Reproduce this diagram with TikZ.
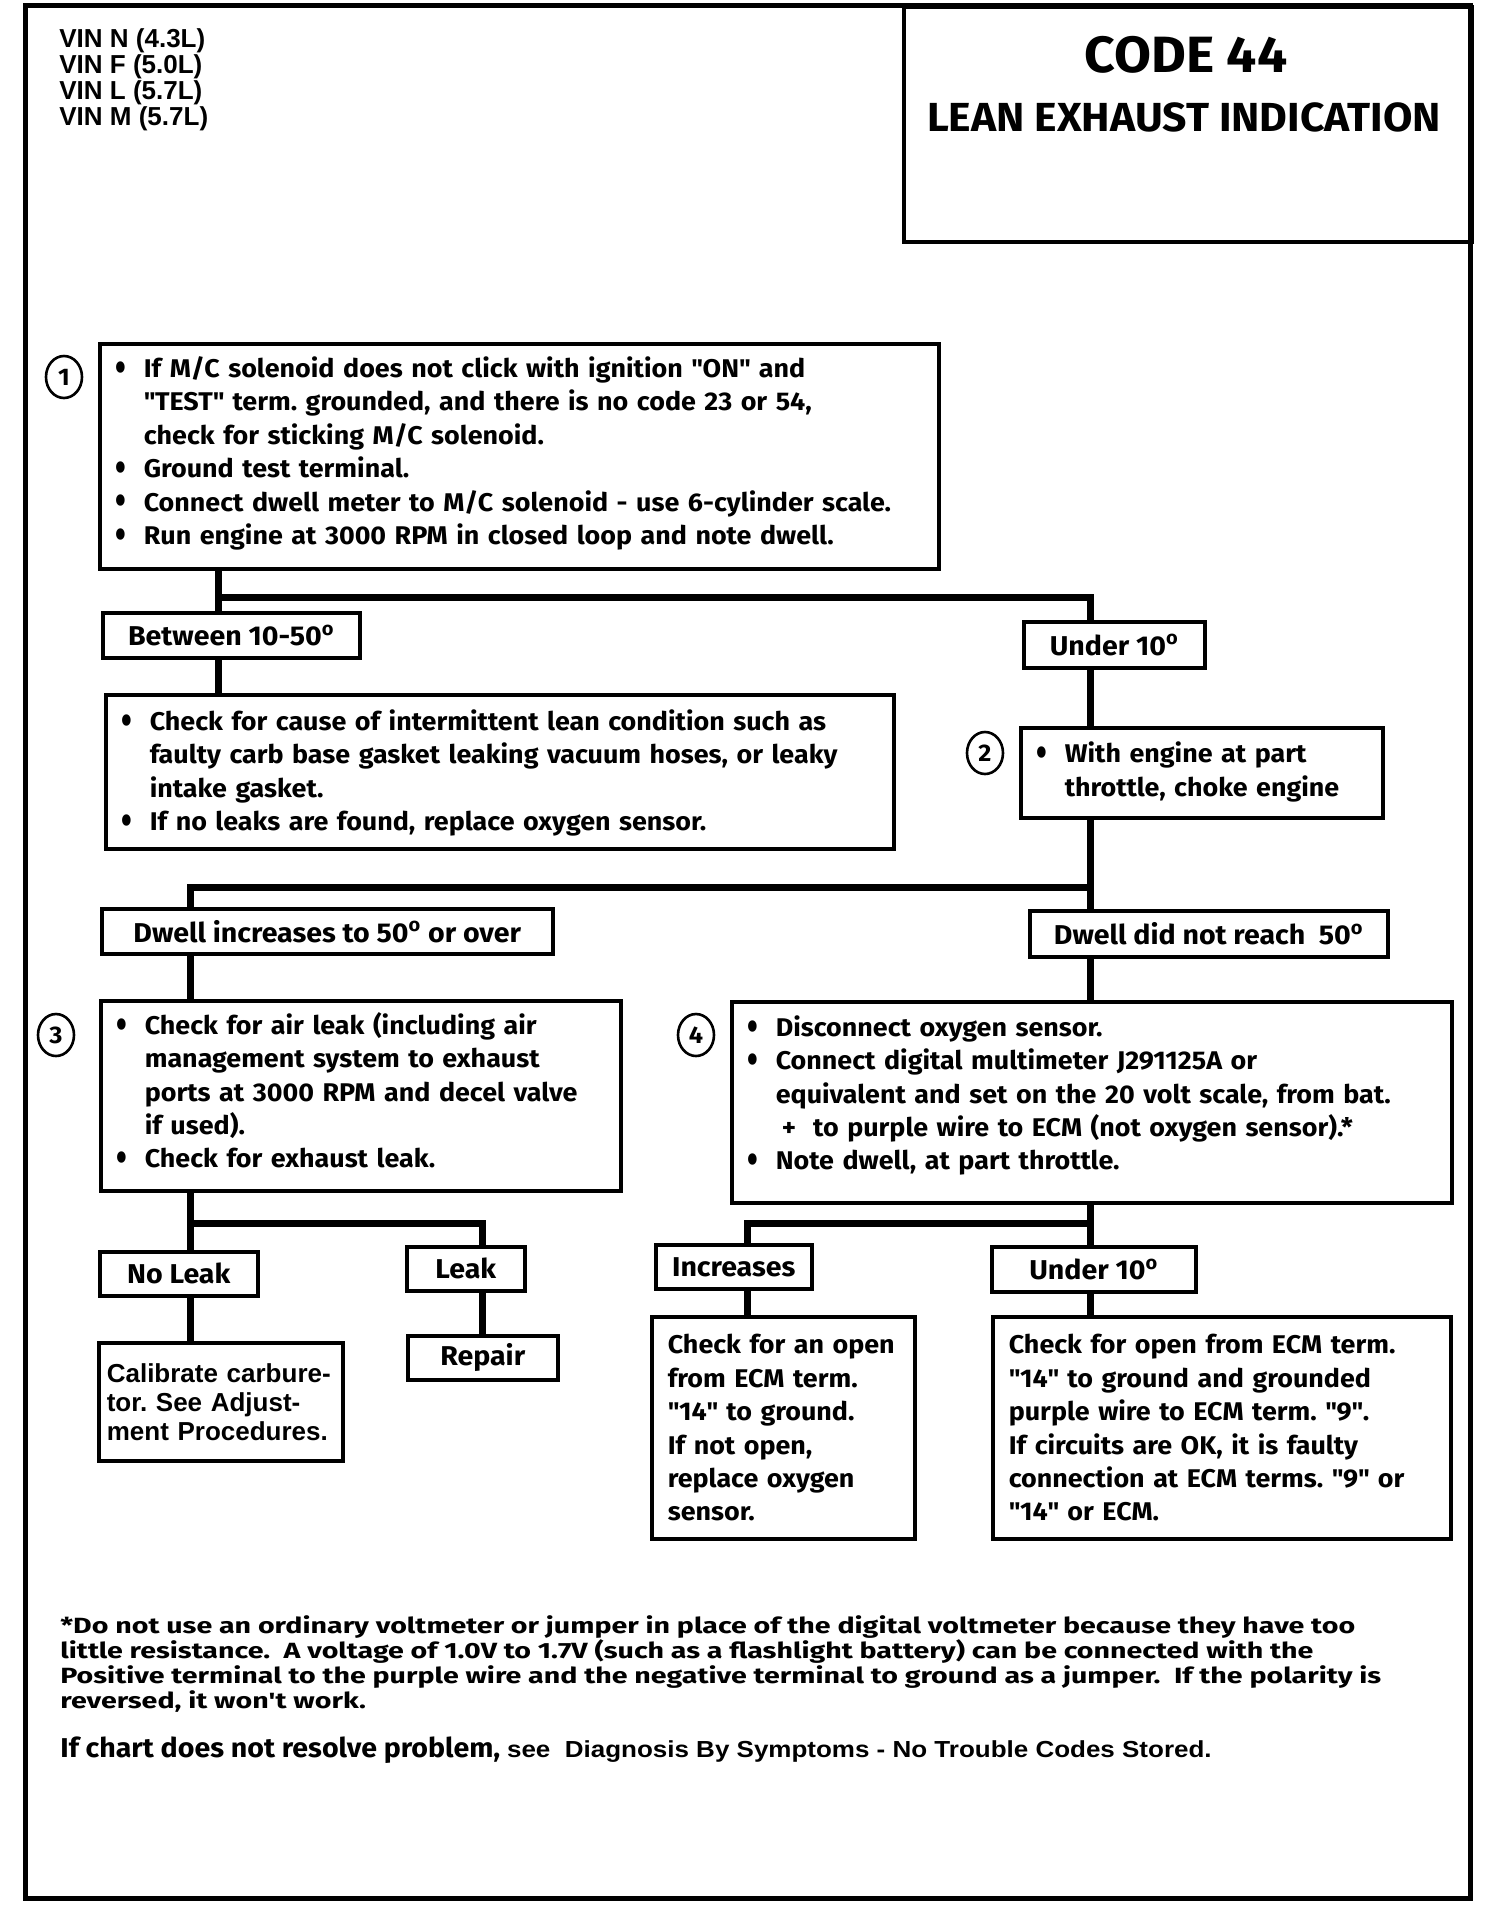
\documentclass[tikz,border=0pt]{standalone}
\usepackage{fontspec}
\usepackage{graphicx}
\setmainfont{Fira Sans}[FakeStretch=1.05]
\newfontfamily\arialfont{Liberation Sans}
\newfontfamily\arialwide{Liberation Sans}[FakeStretch=1.12]
\newfontfamily\widefont{Fira Sans}[FakeStretch=1.3]
\usetikzlibrary{shapes, calc}

\frenchspacing
\newcommand{\boxfont}{\fontsize{12.8}{16.7}\selectfont\bfseries}
\newcommand{\lblfont}{\fontsize{13.6}{16}\selectfont\bfseries}
\newcommand{\itm}{\par\noindent\makebox[14pt][l]{\raisebox{-0.15em}{\scalebox{1.15}[1.6]{\textbullet}}}}
\newcommand{\nl}{\\\hspace*{14pt}}
\newcommand{\lift}[1]{\rule[-#1]{0pt}{#1}}
\newcommand{\dg}{\textsuperscript{o}}
\newcommand{\qt}[1]{\textquotedbl#1\textquotedbl}

\begin{document}
\begin{tikzpicture}[x=0.5pt, y=-0.5pt]
  \tikzset{box/.style={draw, line width=1.8pt, anchor=north west, inner xsep=8pt, inner ysep=0pt, align=left, font=\boxfont},
    lbl/.style={draw, line width=1.8pt, anchor=north west, inner sep=0pt, align=center, font=\lblfont},
    wh/.style 2 args={minimum width=#1*0.5pt, minimum height=#2*0.5pt},
    tw/.style={text width=#1*0.5pt-16pt},
    num/.style={draw, ellipse, line width=1.3pt, minimum width=18pt, minimum height=21pt, inner sep=0pt, font=\fontsize{12}{14}\selectfont\bfseries},
    link/.style={line width=3.5pt}
  }
  \useasboundingbox (0,0) rectangle (1504,1918);
  \draw[line width=2.5pt] (25,5) rectangle (1470,1898);

  % title block
  \node[lbl, wh={568}{235}] (hdr) at (902,5) {};
  \node[font=\fontsize{25.5}{28}\selectfont\bfseries] (code) at (1186,55) {CODE 44};
  \node[font=\fontsize{20.3}{23}\selectfont\bfseries] (lean) at (1184,117) {LEAN EXHAUST INDICATION};
  \node[anchor=north west, align=left, inner sep=0pt, font=\arialfont\fontsize{13}{13.1}\selectfont\bfseries] (vin) at (59,28)
    {VIN N (4.3L)\\ VIN F (5.0L)\\ VIN L (5.7L)\\ VIN M (5.7L)};

  % steps
  \node[num] (n1) at (64,377) {1};
  \node[box, wh={839}{225}, tw={839}] (b1) at (98,342) {%
    \itm If M/C solenoid does not click with ignition \qt{ON} and\nl \qt{TEST} term. grounded, and there is no code 23 or 54,\nl check for sticking M/C solenoid.
    \itm Ground test terminal.
    \itm Connect dwell meter to M/C solenoid - use 6-cylinder scale.
    \itm Run engine at 3000 RPM in closed loop and note dwell.\lift{12pt}};
  \node[lbl, wh={257}{45}] (btw) at (101,611) {Between 10-50\dg};
  \node[lbl, wh={181}{46}] (und1) at (1022,620) {Under 10\dg};
  \node[box, wh={788}{154}, tw={788}] (chk) at (104,693) {%
    \itm Check for cause of intermittent lean condition such as\nl faulty carb base gasket leaking vacuum hoses, or leaky\nl intake gasket.
    \itm If no leaks are found, replace oxygen sensor.\lift{8pt}};
  \node[num] (n2) at (985,753) {2};
  \node[box, wh={362}{90}, tw={362}] (b2) at (1019,726) {%
    \itm With engine at part\nl throttle, choke engine\lift{10pt}};
  \node[lbl, wh={451}{45}] (dwup) at (100,907) {Dwell increases to 50\dg\ or over};
  \node[lbl, wh={358}{46}] (dwno) at (1028,909) {Dwell did not reach\ \ 50\dg};
  \node[num] (n3) at (56,1035) {3};
  \node[box, wh={520}{190}, tw={520}] (b3) at (99,999) {%
    \itm Check for air leak (including air\nl management system to exhaust\nl ports at 3000 RPM and decel valve\nl if used).
    \itm Check for exhaust leak.\lift{11.5pt}};
  \node[num] (n4) at (696,1035) {4};
  \node[box, wh={720}{201}, tw={720}] (b4) at (730,1000) {%
    \itm Disconnect oxygen sensor.
    \itm Connect digital multimeter J291125A or\nl equivalent and set on the 20 volt scale, from bat.\nl \hspace*{3pt}+\ \ to purple wire to ECM (not oxygen sensor).*
    \itm Note dwell, at part throttle.\lift{16pt}};

  % outcomes
  \node[lbl, wh={158}{44}] (nol) at (98,1250) {No Leak};
  \node[lbl, wh={118}{44}] (leak) at (405,1245) {Leak};
  \node[lbl, wh={156}{44}] (inc) at (654,1243) {Increases};
  \node[lbl, wh={204}{45}] (und2) at (990,1245) {Under 10\dg};
  \node[box, wh={244}{118}, inner xsep=4pt, text width=114pt, font=\arialfont\fontsize{13}{14.5}\selectfont\bfseries] (cal) at (97,1341)
    {Calibrate carbure-\\ tor. See Adjust-\\ ment Procedures.};
  \node[lbl, wh={150}{44}] (rep) at (406,1334) {Repair};
  \node[box, wh={263}{222}, tw={263}, inner xsep=6pt] (opn) at (650,1315)
    {Check for an open\\ from ECM term.\\ \qt{14} to ground.\\ If not open,\\ replace oxygen\\ sensor.};
  \node[box, wh={458}{222}, tw={458}, inner xsep=6pt] (ecm) at (991,1315)
    {Check for open from ECM term.\\ \qt{14} to ground and grounded\\ purple wire to ECM term. \qt{9}.\\ If circuits are OK, it is faulty\\ connection at ECM terms. \qt{9} or\\ \qt{14} or ECM.};

  % connectors
  \coordinate (t1) at (218,597);
  \coordinate (t2) at (1090,887);
  \coordinate (t3) at (190,1223);
  \coordinate (t4) at (1090,1223);
  \coordinate (t5) at (482,1223);
  \coordinate (t6) at (747,1223);
  \draw[link] (b1.south -| t1) -- (btw.north -| t1);
  \draw[link] (t1) -| (und1.north -| t2);
  \draw[link] (btw.south -| t1) -- (chk.north -| t1);
  \draw[link] (und1.south -| t2) -- (b2.north -| t2);
  \draw[link] (b2.south -| t2) -- (dwno.north -| t2);
  \draw[link] (t2) -| (dwup.north -| t3);
  \draw[link] (dwup.south -| t3) -- (b3.north -| t3);
  \draw[link] (dwno.south -| t2) -- (b4.north -| t2);
  \draw[link] (b3.south -| t3) -- (nol.north -| t3);
  \draw[link] (t3) -- (t5) -- (leak.north -| t5);
  \draw[link] (b4.south -| t4) -- (und2.north -| t4);
  \draw[link] (t4) -- (t6) -- (inc.north -| t6);
  \draw[link] (nol.south -| t3) -- (cal.north -| t3);
  \draw[link] (leak.south -| t5) -- (rep.north -| t5);
  \draw[link] (inc.south -| t6) -- (opn.north -| t6);
  \draw[link] (und2.south -| t4) -- (ecm.north -| t4);

  % notes
  \node[anchor=north west, align=left, inner sep=0pt, font=\widefont\fontsize{11}{12.5}\selectfont\bfseries] (fn) at (60,1615)
    {*Do not use an ordinary voltmeter or jumper in place of the digital voltmeter because they have too\\
     little resistance.\ \ A voltage of 1.0V to 1.7V (such as a flashlight battery) can be connected with the\\
     Positive terminal to the purple wire and the negative terminal to ground as a jumper.\ \ If the polarity is\\
     reversed, it won't work.};
  \node[anchor=west, inner sep=0pt, font=\fontsize{13.6}{15}\selectfont\bfseries] (see) at (60,1750)
    {If chart does not resolve problem, {\arialwide\fontsize{11.6}{13}\selectfont see\ \ Diagnosis By Symptoms - No Trouble Codes Stored.}};
\end{tikzpicture}
\end{document}
